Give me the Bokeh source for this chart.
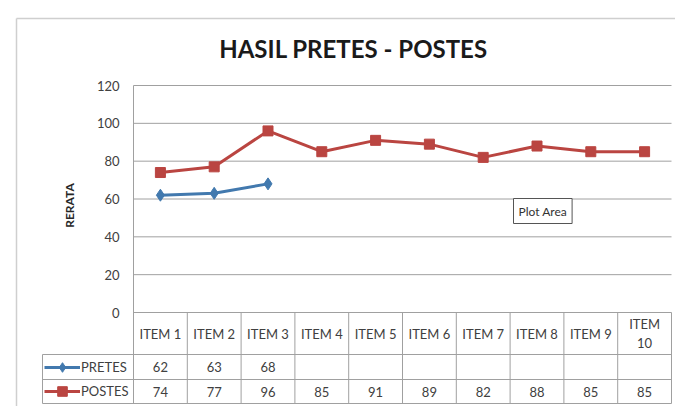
import math
from bokeh.plotting import figure
from bokeh.models import Range1d, Legend, LegendItem, Label
from bokeh.embed import file_html
from bokeh.resources import INLINE
from bokeh.core.properties import value

# ---- data ----
items = ["ITEM 1", "ITEM 2", "ITEM 3", "ITEM 4", "ITEM 5",
         "ITEM 6", "ITEM 7", "ITEM 8", "ITEM 9", "ITEM\n10"]
pretes = [62, 63, 68]
postes = [74, 77, 96, 85, 91, 89, 82, 88, 85, 85]
y_ticks = [0, 20, 40, 60, 80, 100, 120]
series_names = ["PRETES", "POSTES"]
title_text = "HASIL PRETES - POSTES"
y_title = "RERATA"

FONT = "Lato"
BLUE = "#4279AE"
RED = "#BA4541"
GRID = "#a0a0a0"
TXT = "#404040"

# ---- layout geometry (page pixels -> data units) ----
W, H = 675, 406          # canvas, placed at page (0, 0)
PX0, PY0 = 0, 0
COL = 53.8               # width of one category column (px)
X_LEFT = 133             # left edge of plot area (px)
Y_ZERO = 312             # value 0 (px)
Y_TOP = 85               # value 120 (px)
K = (Y_ZERO - Y_TOP) / (y_ticks[-1] - y_ticks[0])


def dx(px):
    return (px - X_LEFT) / COL + 0.5


def dy(py):
    return (Y_ZERO - py) / K


n = len(items)
xs = list(range(1, n + 1))

p = figure(width=W, height=H, output_backend="svg", toolbar_location=None,
           x_range=Range1d(dx(PX0), dx(PX0 + W)),
           y_range=Range1d(dy(PY0 + H), dy(PY0)),
           min_border=0, x_axis_location=None, y_axis_location=None)
p.outline_line_color = None
p.xgrid.visible = False
p.ygrid.visible = False
p.background_fill_color = "white"
p.border_fill_color = "white"

# outer chart border
p.segment(x0=[dx(16), dx(16)], y0=[dy(18), dy(18)], x1=[dx(16), dx(679)],
          y1=[dy(408), dy(18)], line_color="#cfcfcf", line_width=1.5)

# title
p.add_layout(Label(x=dx(353), y=dy(47.5), text=title_text, text_align="center",
                   text_baseline="middle", text_font=FONT, text_font_size="24px",
                   text_font_style="bold", text_color="#1a1a1a"))

# horizontal gridlines from the tick list
p.segment(x0=[0.5] * len(y_ticks), y0=y_ticks, x1=[n + 0.5] * len(y_ticks),
          y1=y_ticks, line_color=GRID, line_width=1)

# table rows (below value 0)
row_lines = [dy(354), dy(379), dy(403)]
header_y = (0 + row_lines[0]) / 2
pre_y = (row_lines[0] + row_lines[1]) / 2
post_y = (row_lines[1] + row_lines[2]) / 2

# value axis line (also left edge of table)
p.segment(x0=[0.5], y0=[y_ticks[-1]], x1=[0.5], y1=[row_lines[-1]],
          line_color=GRID, line_width=1)

# tick labels
p.text(x=[dx(119)] * len(y_ticks), y=y_ticks, text=[str(t) for t in y_ticks],
       text_align="right", text_baseline="middle", text_font=value(FONT),
       text_font_size="13px", text_color=TXT)

# axis title
p.add_layout(Label(x=dx(69), y=dy(205), text=y_title, angle=math.pi / 2,
                   text_align="center", text_baseline="middle", text_font=FONT,
                   text_font_size="12px", text_font_style="bold",
                   text_color="#262626"))

# ---- series ----
x_pre = xs[:len(pretes)]
x_post = xs[:len(postes)]
l_pre = p.line(x_pre, pretes, line_width=3, color=BLUE)
s_pre = p.scatter(x_pre, pretes, marker="diamond", size=12, color=BLUE)
l_post = p.line(x_post, postes, line_width=3, color=RED)
s_post = p.scatter(x_post, postes, marker="square", size=10, color=RED)

# ---- data table ----
bounds = [i + 0.5 for i in xs]
p.segment(x0=bounds, y0=[0] * n, x1=bounds, y1=[row_lines[-1]] * n,
          line_color=GRID, line_width=1)
p.segment(x0=[dx(42)] * len(row_lines), y0=row_lines,
          x1=[n + 0.5] * len(row_lines), y1=row_lines,
          line_color=GRID, line_width=1)
p.segment(x0=[dx(42)], y0=[row_lines[0]], x1=[dx(42)], y1=[row_lines[-1]],
          line_color=GRID, line_width=1)

p.text(x=xs, y=[header_y] * n, text=items, text_align="center",
       text_baseline="middle", text_font=value(FONT), text_font_size="13px",
       text_color=TXT, text_line_height=1.15)
p.text(x=x_pre, y=[pre_y] * len(pretes), text=[str(v) for v in pretes],
       text_align="center", text_baseline="middle", text_font=value(FONT),
       text_font_size="13px", text_color=TXT)
p.text(x=x_post, y=[post_y] * len(postes), text=[str(v) for v in postes],
       text_align="center", text_baseline="middle", text_font=value(FONT),
       text_font_size="13px", text_color=TXT)

# ---- legend keys inside the table ----
for name, rends, bottom in [(series_names[0], [l_pre, s_pre], 379),
                            (series_names[1], [l_post, s_post], 403)]:
    leg = Legend(items=[LegendItem(label=name, renderers=rends)],
                 location=(44 - PX0, PY0 + H - bottom),
                 padding=0, margin=0, spacing=0, glyph_width=36,
                 glyph_height=24, label_height=24, label_standoff=1,
                 label_text_font=FONT, label_text_font_size="13px",
                 label_text_color=TXT, border_line_alpha=0,
                 background_fill_alpha=0)
    p.add_layout(leg)

# ---- "Plot Area" tooltip ----
p.add_layout(Label(x=dx(513), y=dy(223), text="Plot Area", text_font=FONT,
                   text_font_size="12px", text_color="#333333",
                   text_baseline="bottom",
                   border_line_color="#555555", background_fill_color="white",
                   padding=5))

open("out.html", "w").write(file_html(p, INLINE))
